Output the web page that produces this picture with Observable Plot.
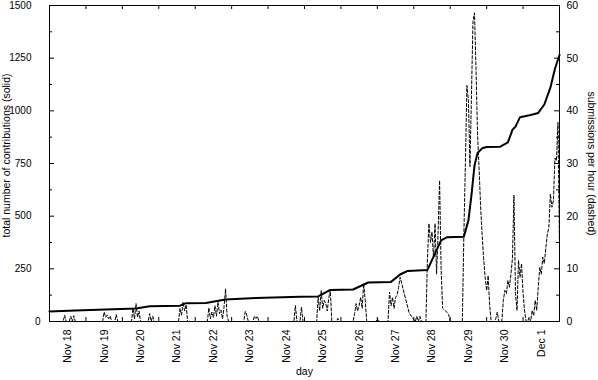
<!DOCTYPE html>
<html><head><meta charset="utf-8">
<script src="https://cdn.jsdelivr.net/npm/d3@7"></script>
<script src="https://cdn.jsdelivr.net/npm/@observablehq/plot@0.6"></script>
<style>
html,body{margin:0;padding:0;background:#fff;}
#chart svg{display:block;}
</style>
</head><body><div id="chart"></div>
<script>
const year = "2007";

// cumulative contributions (left axis, solid)
const solidTimes = ["11-17T12","11-18T05","11-19T01","11-19T21","11-20T06","11-21T02","11-21T06","11-21T19","11-22T08","11-23T04","11-24T09","11-24T21","11-25T05","11-25T20","11-26T06","11-26T21","11-27T03","11-27T08","11-27T21","11-28T06","11-28T10","11-28T21","11-29T00","11-29T02","11-29T04","11-29T06","11-29T09","11-29T12","11-29T21","11-30T02","11-30T05","11-30T07","11-30T10","11-30T17","11-30T22","12-01T02","12-01T06","12-01T09","12-01T12"];
const solidValues = [47,52,57,62,72,75,87,88,104,112,118,119,150,152,185,188,223,240,245,385,400,402,480,600,740,800,822,828,830,850,910,925,970,980,990,1030,1110,1200,1265];

// submissions per hour (right axis, dashed)
const dashTimes = ["11-17T12","11-17T21","11-17T22","11-17T23","11-18T01","11-18T02","11-18T03","11-18T04","11-18T05","11-18T23","11-19T00","11-19T01","11-19T02","11-19T03","11-19T04","11-19T05","11-19T07","11-19T08","11-19T09","11-19T18","11-19T19","11-19T20","11-19T21","11-19T22","11-19T23","11-20T00","11-20T05","11-20T06","11-20T07","11-20T08","11-20T09","11-21T01","11-21T02","11-21T03","11-21T04","11-21T05","11-21T06","11-21T07","11-21T20","11-21T21","11-21T22","11-21T23","11-22T00","11-22T01","11-22T02","11-22T03","11-22T04","11-22T05","11-22T06","11-22T07","11-22T08","11-22T09","11-22T10","11-22T20","11-22T21","11-22T22","11-22T23","11-23T02","11-23T03","11-23T04","11-23T05","11-23T06","11-24T05","11-24T06","11-24T07","11-24T09","11-24T10","11-24T11","11-24T20","11-24T21","11-24T22","11-24T23","11-25T00","11-25T01","11-25T02","11-25T03","11-25T04","11-25T05","11-25T06","11-25T09","11-25T10","11-25T11","11-25T20","11-25T21","11-25T22","11-25T23","11-26T00","11-26T01","11-26T02","11-26T03","11-26T04","11-26T05","11-26T11","11-26T12","11-26T13","11-26T19","11-26T20","11-26T21","11-26T22","11-26T23","11-27T00","11-27T01","11-27T02","11-27T03","11-27T09","11-27T13","11-27T14","11-27T15","11-27T16","11-27T17","11-27T20","11-27T21","11-27T22","11-27T23","11-28T00","11-28T01","11-28T02","11-28T03","11-28T04","11-28T05","11-28T06","11-28T07","11-28T09","11-28T11","11-28T12","11-28T20","11-28T21","11-28T22","11-28T23","11-29T00","11-29T01","11-29T02","11-29T03","11-29T04","11-29T05","11-29T06","11-29T07","11-29T08","11-29T09","11-29T10","11-29T11","11-29T12","11-29T13","11-29T14","11-29T15","11-29T17","11-29T18","11-29T19","11-29T20","11-29T22","11-29T23","11-30T00","11-30T01","11-30T02","11-30T03","11-30T04","11-30T05","11-30T06","11-30T07","11-30T08","11-30T09","11-30T10","11-30T11","11-30T12","11-30T13","11-30T14","11-30T15","11-30T16","11-30T17","11-30T18","11-30T19","11-30T20","11-30T21","11-30T22","11-30T23","12-01T00","12-01T01","12-01T02","12-01T03","12-01T04","12-01T05","12-01T06","12-01T07","12-01T08","12-01T09","12-01T10","12-01T11","12-01T12"];
const dashValues = [0,0,1.2,0,0,1.0,0,1.1,0,0,1.8,0.8,1.2,0.5,1.0,0,0,1.3,0,0,2.5,0.5,3.4,0.8,2.0,0,0,1.5,0,1.0,0,0,2.5,1.2,3.7,2.0,3.2,0,0,2.6,0.5,1.8,0.8,3.0,1.0,3.7,1.5,2.2,0.5,2.8,6.2,1.0,0,0,1.9,1.2,0,0,1.0,0.6,1.0,0,0,3.0,0,0,2.7,0,0,4.6,2.0,5.9,2.5,4.0,3.4,2.0,4.5,5.9,0,0,0.6,0,0,1.5,3.4,2.0,3.0,4.6,2.5,7.2,4.0,0,0,0.5,0,0,5.6,3.0,4.6,2.5,4.6,5.0,6.5,8.4,1.6,0,1.0,0,1.0,0,0,12,18.6,15,17,12,18.6,9,16.7,26.8,10,2.5,2,1.3,0,0,16.6,30,44.8,42,29.4,43,57,58.6,48,35.6,29.3,22,16.6,12,8.4,5.9,8.7,3,0,0,0.5,1.8,0,0,4,5.9,5.3,7.8,6.5,9,12,24,5.3,2.1,11.6,8.4,11,5.3,2,0,0,0.8,0,2.1,1.1,4,2.1,6.5,10.3,9,12.2,11,14,16.6,17.9,24.2,21.7,23,31,30.5,37.8,14];

const dayLabels = ["11-18","11-19","11-20","11-21","11-22","11-23","11-24","11-25","11-26","11-27","11-28","11-29","11-30","12-01"];
const leftTicks = [0,250,500,750,1000,1250,1500];
const leftMinor = [125,375,625,875,1125,1375];
const rightTicks = [0,10,20,30,40,50,60];
const leftMax = 1500, rightMax = 60;
const xStart = "11-17T12", xEnd = "12-01T12";

const parseH = d3.utcParse("%Y-%m-%dT%H");
const parseD = d3.utcParse("%Y-%m-%d");
const ratio = leftMax / rightMax;
const solid = solidTimes.map((t, i) => ({t: parseH(`${year}-${t}`), v: solidValues[i]}));
const dashed = dashTimes.map((t, i) => ({t: parseH(`${year}-${t}`), v: dashValues[i] * ratio}));
const labelDates = dayLabels.map(d => parseD(`${year}-${d}`));
const x0 = parseH(`${year}-${xStart}`), x1 = parseH(`${year}-${xEnd}`);
const dayTicks = d3.utcHour.range(x0, d3.utcHour.offset(x1, 1), 24);

const W = 598, H = 380, mL = 49, mR = 39, mT = 5, mB = 59;
const iW = W - mL - mR, iH = H - mT - mB;
const font = "'Liberation Sans', Arial, Helvetica, sans-serif";

const chart = Plot.plot({
  width: W, height: H,
  marginLeft: mL, marginRight: mR, marginTop: mT, marginBottom: mB,
  style: {fontFamily: font, fontSize: "10.5px", color: "black", background: "white", overflow: "visible"},
  x: {type: "utc", domain: [x0, x1], label: null, axis: null},
  y: {domain: [0, leftMax], label: null, axis: null},
  marks: [
    Plot.line(dashed, {x: "t", y: "v", stroke: "black", strokeWidth: 1, strokeDasharray: "3,2"}),
    Plot.line(solid, {x: "t", y: "v", stroke: "black", strokeWidth: 2, strokeLinejoin: "round"}),
    Plot.frame({stroke: "black", strokeWidth: 1}),
    // inward ticks
    Plot.tickY(leftTicks, {y: d => d, insetRight: iW - 5, stroke: "black"}),
    Plot.tickY(leftTicks, {y: d => d, insetLeft: iW - 5, stroke: "black"}),
    Plot.tickY(leftMinor, {y: d => d, insetRight: iW - 3, stroke: "black"}),
    Plot.tickY(leftMinor, {y: d => d, insetLeft: iW - 3, stroke: "black"}),
    Plot.tickX(dayTicks, {x: d => d, insetBottom: iH - 4, stroke: "black"}),
    Plot.tickX(dayTicks, {x: d => d, insetTop: iH - 4, stroke: "black"}),
    // left tick labels
    Plot.text(leftTicks.filter(d => d > 0), {y: d => d, text: d => String(d), frameAnchor: "left", dx: -18, textAnchor: "end", lineAnchor: "middle", fontSize: 10}),
    Plot.text(leftTicks.filter(d => d === 0), {y: d => d, text: d => String(d), frameAnchor: "left", dx: -9, textAnchor: "end", lineAnchor: "middle", fontSize: 10}),
    // right tick labels
    Plot.text(rightTicks, {y: d => d * ratio, text: d => String(d), frameAnchor: "right", dx: 7, textAnchor: "start", lineAnchor: "middle", fontSize: 10.5}),
    // bottom tick labels
    Plot.text(labelDates, {x: d => d, text: d => d3.utcFormat("%b %-d")(d), frameAnchor: "bottom", dy: 8, rotate: -90, textAnchor: "end", lineAnchor: "middle", fontSize: 10.5}),
    // axis titles (centred along their axis)
    Plot.text(["total number of contributions (solid)"], {text: d => d, frameAnchor: "left", dx: -43, dy: -8, rotate: -90, textAnchor: "middle", lineAnchor: "middle", fontSize: 10.5}),
    Plot.text(["submissions per hour (dashed)"], {text: d => d, frameAnchor: "right", dx: 32, rotate: 90, textAnchor: "middle", lineAnchor: "middle", fontSize: 10.5}),
    Plot.text(["day"], {text: d => d, frameAnchor: "bottom", dy: 53, textAnchor: "middle", fontSize: 10.5})
  ]
});
document.getElementById("chart").appendChild(chart);
</script>
</body></html>
